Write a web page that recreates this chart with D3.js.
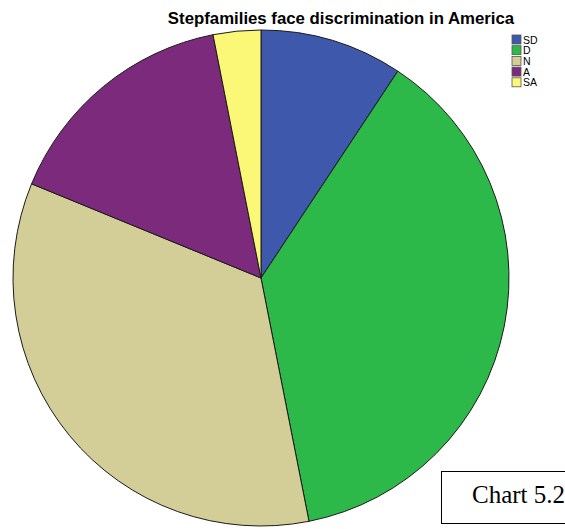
<!DOCTYPE html>
<html>
<head>
<meta charset="utf-8">
<script src="https://cdn.jsdelivr.net/npm/d3@7"></script>
<style>
  body { margin: 0; background: #fff; }
  svg { display: block; }
</style>
</head>
<body>
<div id="chart"></div>
<script>
// answer categories and share of respondents (%)
var categories = ["SD", "D", "N", "A", "SA"];
var values = [9.3, 37.6, 34.3, 15.7, 3.1];
var colors = ["#3e58ac", "#2db84a", "#d3ce97", "#7b2a7c", "#fbf877"];

var width = 565, height = 529;

var svg = d3.select("#chart")
    .append("svg")
    .attr("width", width)
    .attr("height", height);

// title
svg.append("text")
    .attr("x", 341)
    .attr("y", 24)
    .attr("text-anchor", "middle")
    .style("font-family", "Liberation Sans, Arial, sans-serif")
    .style("font-weight", "bold")
    .style("font-size", "16.8px")
    .text("Stepfamilies face discrimination in America");

var color = d3.scaleOrdinal().domain(categories).range(colors);

var pie = d3.pie().sort(null).value(function (d) { return d.value; });
var arc = d3.arc().innerRadius(0).outerRadius(248);

var data = categories.map(function (c, i) { return { cat: c, value: values[i] }; });

var g = svg.append("g").attr("transform", "translate(261,278)");

g.selectAll(".slice")
    .data(pie(data))
    .enter().append("path")
    .attr("class", "slice")
    .attr("d", arc)
    .attr("fill", function (d) { return color(d.data.cat); })
    .attr("stroke", "#1a1a1a")
    .attr("stroke-width", 1);

// legend
var legend = svg.append("g").attr("transform", "translate(512,35)");
var item = legend.selectAll(".item")
    .data(categories)
    .enter().append("g")
    .attr("class", "item")
    .attr("transform", function (d, i) { return "translate(0," + (i * 10.7) + ")"; });

item.append("rect")
    .attr("width", 9)
    .attr("height", 9)
    .attr("fill", function (d) { return color(d); })
    .attr("stroke", "#555")
    .attr("stroke-width", 0.8);

item.append("text")
    .attr("x", 11)
    .attr("y", 8.5)
    .style("font-family", "Liberation Sans, Arial, sans-serif")
    .style("font-size", "10.5px")
    .text(function (d) { return d; });

// chart label box
svg.append("rect")
    .attr("x", 441.5)
    .attr("y", 471.5)
    .attr("width", 140)
    .attr("height", 52)
    .attr("fill", "#fff")
    .attr("stroke", "#000")
    .attr("stroke-width", 1);

svg.append("text")
    .attr("x", 472)
    .attr("y", 503)
    .style("font-family", "Liberation Serif, Times New Roman, serif")
    .style("font-size", "25px")
    .text("Chart 5.2");
</script>
</body>
</html>
